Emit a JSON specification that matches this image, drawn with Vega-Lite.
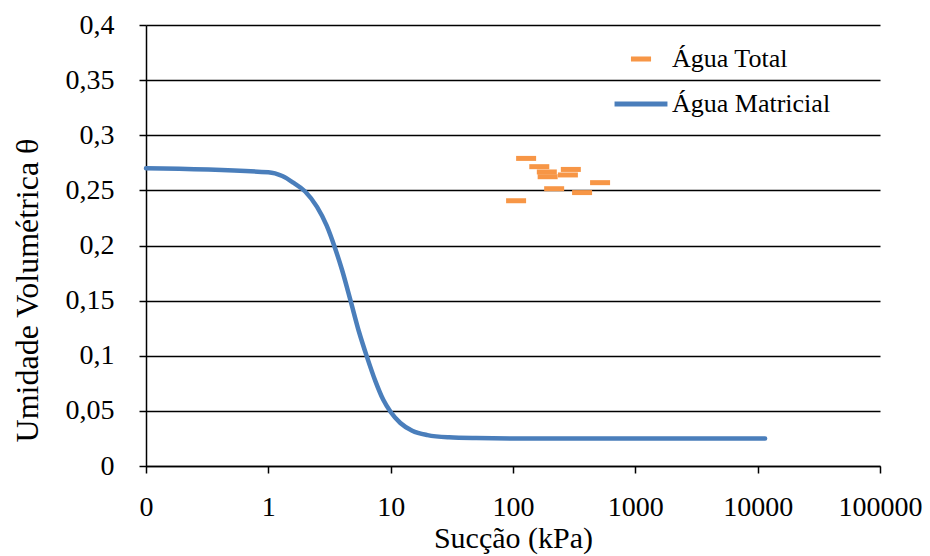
{
  "$schema": "https://vega.github.io/schema/vega-lite/v6.json",
  "width": 734,
  "height": 441,
  "autosize": {"type": "none"},
  "padding": {"left": 146, "top": 25, "right": 50, "bottom": 90},
  "background": "white",
  "config": {
    "view": {"stroke": null},
    "font": "Liberation Serif",
    "axis": {"labelFont": "Liberation Serif", "titleFont": "Liberation Serif"},
    "legend": {"labelFont": "Liberation Serif", "titleFont": "Liberation Serif"},
    "style": {
      "guide-label": {"font": "Liberation Serif"},
      "guide-title": {"font": "Liberation Serif"}
    }
  },
  "encoding": {
    "x": {
      "field": "s", "type": "quantitative",
      "scale": {"type": "log", "domain": [0.1, 100000], "nice": false},
      "axis": {
        "title": "Sucção (kPa)",
        "values": [0.1, 1, 10, 100, 1000, 10000, 100000],
        "labelExpr": "datum.value < 1 ? '0' : format(datum.value, 'd')",
        "grid": false,
        "domainColor": "black", "domainWidth": 1.5,
        "tickColor": "black", "tickWidth": 1.5, "tickSize": 7,
        "labelFont": "Liberation Serif", "labelFontSize": 28, "labelColor": "black",
        "labelPadding": 20, "labelFlush": false, "labelOverlap": false,
        "titleFont": "Liberation Serif", "titleFontSize": 30, "titleFontWeight": "normal", "titleColor": "black",
        "titlePadding": 2
      }
    },
    "y": {
      "field": "u", "type": "quantitative",
      "scale": {"domain": [0, 0.4], "nice": false, "zero": false},
      "axis": {
        "title": "Umidade Volumétrica  θ",
        "values": [0, 0.05, 0.1, 0.15, 0.2, 0.25, 0.3, 0.35, 0.4],
        "labelExpr": "replace(format(datum.value, '.2~f'), '.', ',')",
        "grid": true, "gridColor": "black", "gridWidth": 1.5, "gridOpacity": 1,
        "domainColor": "black", "domainWidth": 1.5,
        "tickColor": "black", "tickWidth": 1.5, "tickSize": 7,
        "labelFont": "Liberation Serif", "labelFontSize": 28, "labelColor": "black",
        "labelPadding": 25, "labelFlush": false, "labelOverlap": false,
        "titleFont": "Liberation Serif", "titleFontSize": 32, "titleFontWeight": "normal", "titleColor": "black",
        "titleX": -119, "titleY": 265, "titleBaseline": "middle", "titleAlign": "center", "titleAngle": -90
      }
    },
    "color": {
      "field": "serie", "type": "nominal",
      "scale": {"domain": ["Água Total", "Água Matricial"], "range": ["#F79646", "#4A7EBB"]},
      "legend": {
        "orient": "none", "legendX": 482, "legendY": 21,
        "title": null,
        "symbolSize": 2800,
        "labelFont": "Liberation Serif", "labelFontSize": 26, "labelColor": "black",
        "labelOffset": 18, "rowPadding": 19,
        "encode": {
          "symbols": {
            "update": {
              "shape": {"signal": "datum.value === 'Água Total' ? 'M-0.38,-0.095L0.38,-0.095L0.38,0.095L-0.38,0.095Z' : 'stroke'"},
              "fill": {"signal": "datum.value === 'Água Total' ? '#F79646' : 'transparent'"},
              "stroke": {"signal": "datum.value === 'Água Total' ? 'transparent' : '#4A7EBB'"},
              "strokeWidth": {"signal": "datum.value === 'Água Total' ? 0 : 5"},
              "opacity": {"value": 1},
              "fillOpacity": {"value": 1},
              "strokeOpacity": {"value": 1}
            }
          }
        }
      }
    }
  },
  "layer": [
    {
      "data": {"values": [
        {"s": 0.1, "u": 0.270, "serie": "Água Matricial"},
        {"s": 1.0, "u": 0.2665, "serie": "Água Matricial"},
        {"s": 1.3, "u": 0.263, "serie": "Água Matricial"},
        {"s": 1.6, "u": 0.257, "serie": "Água Matricial"},
        {"s": 2.0, "u": 0.249, "serie": "Água Matricial"},
        {"s": 2.5, "u": 0.235, "serie": "Água Matricial"},
        {"s": 3.0, "u": 0.218, "serie": "Água Matricial"},
        {"s": 3.5, "u": 0.198, "serie": "Água Matricial"},
        {"s": 4.0, "u": 0.178, "serie": "Água Matricial"},
        {"s": 4.7, "u": 0.150, "serie": "Água Matricial"},
        {"s": 5.5, "u": 0.122, "serie": "Água Matricial"},
        {"s": 6.4, "u": 0.099, "serie": "Água Matricial"},
        {"s": 7.5, "u": 0.077, "serie": "Água Matricial"},
        {"s": 8.7, "u": 0.060, "serie": "Água Matricial"},
        {"s": 10, "u": 0.049, "serie": "Água Matricial"},
        {"s": 12, "u": 0.039, "serie": "Água Matricial"},
        {"s": 15, "u": 0.032, "serie": "Água Matricial"},
        {"s": 20, "u": 0.028, "serie": "Água Matricial"},
        {"s": 30, "u": 0.026, "serie": "Água Matricial"},
        {"s": 50, "u": 0.0253, "serie": "Água Matricial"},
        {"s": 100, "u": 0.025, "serie": "Água Matricial"},
        {"s": 1000, "u": 0.025, "serie": "Água Matricial"},
        {"s": 11500, "u": 0.025, "serie": "Água Matricial"}
      ]},
      "mark": {"type": "line", "interpolate": "monotone", "strokeWidth": 4.5, "strokeCap": "round"}
    },
    {
      "data": {"values": [
        {"s": 128, "u": 0.279, "serie": "Água Total"},
        {"s": 164, "u": 0.2715, "serie": "Água Total"},
        {"s": 189, "u": 0.2667, "serie": "Água Total"},
        {"s": 192, "u": 0.2624, "serie": "Água Total"},
        {"s": 297, "u": 0.269, "serie": "Água Total"},
        {"s": 281, "u": 0.264, "serie": "Água Total"},
        {"s": 515, "u": 0.257, "serie": "Água Total"},
        {"s": 217, "u": 0.2515, "serie": "Água Total"},
        {"s": 367, "u": 0.248, "serie": "Água Total"},
        {"s": 106, "u": 0.2406, "serie": "Água Total"}
      ]},
      "mark": {"type": "point", "filled": true, "opacity": 1, "size": 400, "shape": "M-1,-0.25L1,-0.25L1,0.25L-1,0.25Z"}
    }
  ]
}
